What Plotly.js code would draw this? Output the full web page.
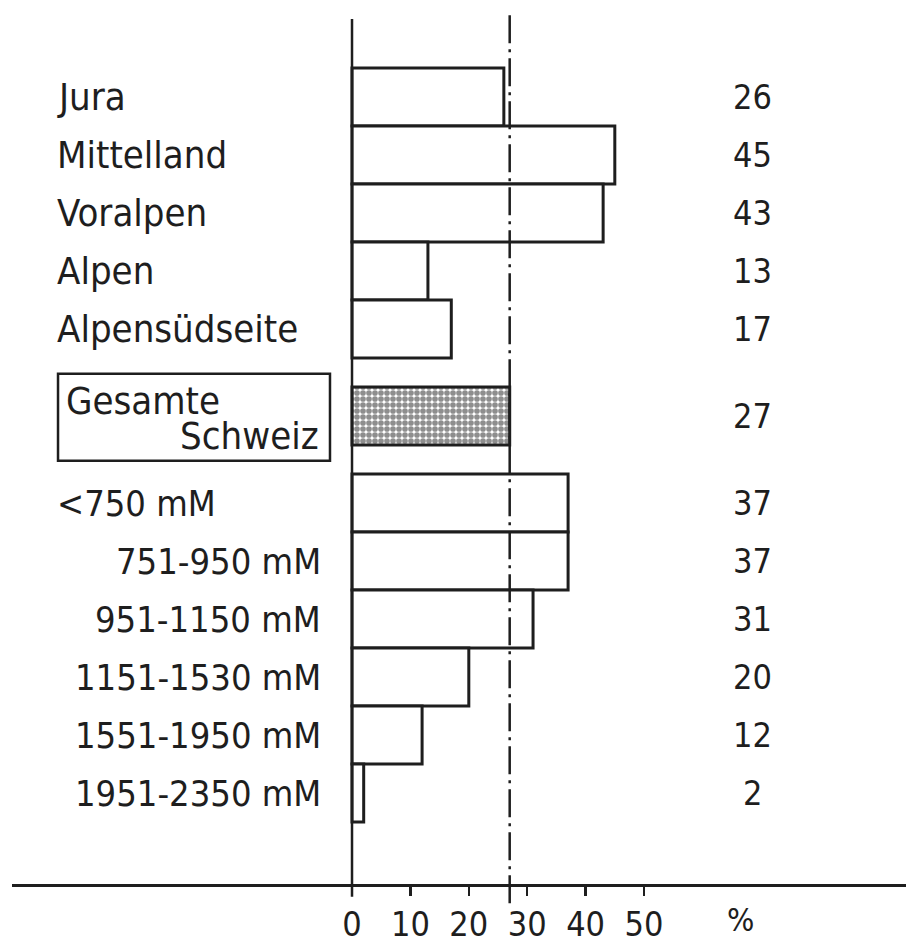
<!DOCTYPE html>
<html>
<head>
<meta charset="utf-8">
<script src="https://cdn.plot.ly/plotly-3.0.1.min.js"></script>
<style>html,body{margin:0;padding:0;background:#fff;}#chart{width:906px;height:943px;}</style>
</head>
<body>
<div id="chart"></div>
<script>
// ---- data ----
const regionLabels = ["Jura", "Mittelland", "Voralpen", "Alpen", "Alpensüdseite"];
const regionValues = [26, 45, 43, 13, 17];
const totalLabel = ["Gesamte", "Schweiz"];
const totalValue = 27;
const elevationLabels = ["<750 mM", "751-950 mM", "951-1150 mM", "1151-1530 mM", "1551-1950 mM", "1951-2350 mM"];
const elevationValues = [37, 37, 31, 20, 12, 2];
const tickValues = [0, 10, 20, 30, 40, 50];
const unitLabel = "%";

// ---- layout constants ----
const INK = "#1e1e1e";
const FONT = "DejaVu Sans Condensed, DejaVu Sans, sans-serif";
const TICKFONT = "Liberation Sans Narrow, DejaVu Sans Condensed, sans-serif";
const XMIN = -58.22, XMAX = 94.86;
const YTOP = -1.362, YBOT = 13.569;
const toPaperX = v => (v - XMIN) / (XMAX - XMIN);
const toPaperY = v => (YBOT - v) / (YBOT - YTOP);

// slot positions derived from group structure
const regionPos = regionValues.map((_, i) => i);
const totalPos = regionPos.length + 0.5;
const elevationPos = elevationValues.map((_, i) => totalPos + 1.5 + i);

const barLine = { color: INK, width: 3 };

const traces = [
  {
    type: "bar", orientation: "h",
    x: regionValues.concat(elevationValues),
    y: regionPos.concat(elevationPos),
    width: 1,
    marker: { color: "#fff", line: barLine },
    hoverinfo: "none", showlegend: false
  },
  {
    type: "bar", orientation: "h",
    x: [totalValue], y: [totalPos], width: 1,
    marker: {
      color: "#fff", line: barLine,
      pattern: { shape: ".", size: 6, solidity: 0.7, fgcolor: INK, bgcolor: "#fff", fillmode: "overlay" }
    },
    hoverinfo: "none", showlegend: false
  }
];

const annotations = [];
const regionFont = { family: FONT, size: 38, color: INK };
const elevFont = { family: FONT, size: 36, color: INK };
const valueFont = { family: FONT, size: 34, color: INK };
const LABEL_LEFT = -50.8, LABEL_RIGHT = -4.97, VALUE_X = 68.5;

regionLabels.forEach((t, i) => {
  annotations.push({ x: LABEL_LEFT, y: regionPos[i], xref: "x", yref: "y", text: t, showarrow: false, xanchor: "left", yanchor: "middle", font: regionFont });
  annotations.push({ x: VALUE_X, y: regionPos[i], xref: "x", yref: "y", text: String(regionValues[i]), showarrow: false, xanchor: "center", yanchor: "middle", font: valueFont });
});
elevationLabels.forEach((t, i) => {
  const left = i === 0;
  annotations.push({ x: left ? LABEL_LEFT : LABEL_RIGHT, y: elevationPos[i], xref: "x", yref: "y", text: t.replace("<", "&lt;"), showarrow: false, xanchor: left ? "left" : "right", yanchor: "middle", font: elevFont });
  annotations.push({ x: VALUE_X, y: elevationPos[i], xref: "x", yref: "y", text: String(elevationValues[i]), showarrow: false, xanchor: "center", yanchor: "middle", font: valueFont });
});
// total label box text
annotations.push({ x: -49.4, y: totalPos - 0.26, xref: "x", yref: "y", text: totalLabel[0], showarrow: false, xanchor: "left", yanchor: "middle", font: regionFont });
annotations.push({ x: -5.3, y: totalPos + 0.35, xref: "x", yref: "y", text: totalLabel[1], showarrow: false, xanchor: "right", yanchor: "middle", font: regionFont });
annotations.push({ x: VALUE_X, y: totalPos, xref: "x", yref: "y", text: String(totalValue), showarrow: false, xanchor: "center", yanchor: "middle", font: valueFont });
// unit label
annotations.push({ x: 66.6, y: -(920 - 884) / (884 - 18), xref: "x", yref: "paper", text: unitLabel, showarrow: false, xanchor: "center", yanchor: "middle", font: { family: TICKFONT, size: 32, color: INK } });

const shapes = [
  // vertical base axis line
  { type: "line", xref: "paper", yref: "paper", x0: toPaperX(0), x1: toPaperX(0), y0: toPaperY(13.79), y1: toPaperY(-1.345), line: { color: INK, width: 2.5 } },
  // reference line at the Swiss total
  { type: "line", xref: "paper", yref: "paper", x0: toPaperX(totalValue), x1: toPaperX(totalValue), y0: toPaperY(13.9), y1: toPaperY(-1.41), line: { color: INK, width: 2.5, dash: "28px,6px,3px,6px" } },
  // box around total label
  { type: "rect", xref: "x", yref: "y", x0: -50.34, x1: -3.77, y0: totalPos - 0.73, y1: totalPos + 0.77, line: { color: INK, width: 2.5 }, fillcolor: "rgba(0,0,0,0)" }
];

const layout = {
  width: 906, height: 943,
  margin: { l: 12, r: 0, t: 18, b: 59 },
  paper_bgcolor: "#fff", plot_bgcolor: "#fff",
  barmode: "overlay",
  xaxis: {
    range: [XMIN, XMAX], tickvals: tickValues, ticktext: tickValues.map(String),
    ticks: "outside", ticklen: 9, tickwidth: 2.5, tickcolor: INK,
    showline: true, linewidth: 2.5, linecolor: INK,
    showgrid: false, zeroline: false,
    tickfont: { family: TICKFONT, size: 34, color: INK },
    ticklabelstandoff: 0,
    fixedrange: true
  },
  yaxis: {
    range: [YBOT, YTOP], showticklabels: false, ticks: "", showgrid: false, zeroline: false, showline: false, fixedrange: true
  },
  annotations: annotations,
  shapes: shapes,
  showlegend: false
};

Plotly.newPlot("chart", traces, layout, { displayModeBar: false, staticPlot: true });
</script>
</body>
</html>
